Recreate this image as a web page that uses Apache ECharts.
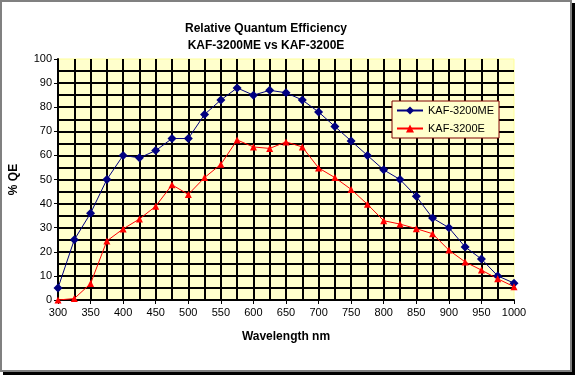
<!DOCTYPE html>
<html>
<head>
<meta charset="utf-8">
<script src="https://cdn.jsdelivr.net/npm/echarts@6/dist/echarts.min.js"></script>
<style>
    html, body { margin: 0; padding: 0; background: #fff; }
    #shadow { position: absolute; left: 3px; top: 3px; width: 572px; height: 372px; background: #000; }
    #frame { position: absolute; left: 0; top: 0; width: 572px; height: 372px; box-sizing: border-box; border: 2px solid #808080; background: #fff; }
    #main { position: absolute; left: 0; top: 0; width: 575px; height: 375px; }
</style>
</head>
<body>
<div id="shadow"></div>
<div id="frame"></div>
<div id="main"></div>
<script>
    // wavelengths (nm)
    var wavelengths = [300, 325, 350, 375, 400, 425, 450, 475, 500, 525, 550, 575, 600, 625, 650,
        675, 700, 725, 750, 775, 800, 825, 850, 875, 900, 925, 950, 975, 1000];
    // KAF-3200ME
    var qeME = [5, 25, 36, 50, 60, 59, 62, 67, 67, 77, 83, 88, 85, 87, 86,
        83, 78, 72, 66, 60, 54, 50, 43, 34, 30, 22, 17, 10, 7];
    // KAF-3200E
    var qeE = [0, 0.6, 6.8, 24.5, 29.5, 33.6, 38.9, 47.8, 43.8, 50.8, 56.3, 66.4, 63.5, 62.9, 65.6,
        63.5, 54.8, 50.8, 45.9, 39.7, 32.9, 31.5, 29.6, 27.5, 20.7, 15.8, 12.4, 8.8, 5.5];
    var seriesNames = ['KAF-3200ME', 'KAF-3200E'];

    function pairs(xs, ys) {
        var out = [];
        for (var i = 0; i < xs.length; i++) {
            out.push([xs[i], ys[i]]);
        }
        return out;
    }

    var font = 'Liberation Sans, Arial, sans-serif';
    var gridLine = { color: '#000', width: 2 };

    var myChart = echarts.init(document.getElementById('main'));
    myChart.setOption({
        animation: false,
        backgroundColor: 'transparent',
        textStyle: { fontFamily: font },
        title: {
            text: 'Relative Quantum Efficiency\nKAF-3200ME vs KAF-3200E',
            left: 261,
            top: 15,
            textAlign: 'center',
            textStyle: { fontFamily: font, fontSize: 12, fontWeight: 'bold', color: '#000', lineHeight: 17 }
        },
        legend: {
            orient: 'vertical',
            left: 392,
            top: 101,
            width: 101,
            padding: [4, 5, 4, 4],
            itemGap: 7,
            itemWidth: 26,
            itemHeight: 10,
            backgroundColor: '#FFFFCC',
            borderColor: '#800000',
            borderWidth: 1,
            borderRadius: 0,
            textStyle: { fontFamily: font, fontSize: 11, color: '#000' },
            data: seriesNames
        },
        grid: {
            show: true,
            left: 58,
            top: 59,
            right: 61,
            bottom: 75,
            backgroundColor: '#FFFFCC',
            borderColor: '#FFFF99',
            borderWidth: 1
        },
        xAxis: {
            type: 'value',
            min: 300,
            max: 1000,
            interval: 50,
            name: 'Wavelength nm',
            nameLocation: 'middle',
            nameGap: 31,
            nameTextStyle: { fontFamily: font, fontSize: 12, fontWeight: 'bold', color: '#000' },
            axisLine: { show: true, lineStyle: { color: '#000', width: 2 } },
            axisTick: { show: true, length: 4, lineStyle: { color: '#000', width: 1 } },
            axisLabel: {
                fontFamily: font, fontSize: 11, color: '#000', margin: 7,
                formatter: function (v) { return String(v); }
            },
            splitLine: { show: true, showMaxLine: false, lineStyle: gridLine },
            minorTick: { show: false, splitNumber: 2 },
            minorSplitLine: { show: true, lineStyle: gridLine }
        },
        yAxis: {
            type: 'value',
            min: 0,
            max: 100,
            interval: 10,
            name: '% QE',
            nameLocation: 'middle',
            nameGap: 38,
            nameRotate: 90,
            nameTextStyle: { fontFamily: font, fontSize: 12, fontWeight: 'bold', color: '#000' },
            axisLine: { show: true, lineStyle: { color: '#000', width: 2 } },
            axisTick: { show: true, length: 4, lineStyle: { color: '#000', width: 1 } },
            axisLabel: { fontFamily: font, fontSize: 11, color: '#000', margin: 6 },
            splitLine: { show: true, showMaxLine: false, lineStyle: gridLine },
            minorTick: { show: false, splitNumber: 2 },
            minorSplitLine: { show: true, lineStyle: gridLine }
        },
        series: [
            {
                name: seriesNames[0],
                type: 'line',
                symbol: 'diamond',
                symbolSize: 9,
                lineStyle: { color: '#000080', width: 1 },
                itemStyle: { color: '#000080' },
                data: pairs(wavelengths, qeME)
            },
            {
                name: seriesNames[1],
                type: 'line',
                symbol: 'triangle',
                symbolSize: 7,
                lineStyle: { color: '#FF0000', width: 1 },
                itemStyle: { color: '#FF0000' },
                data: pairs(wavelengths, qeE)
            }
        ]
    });
</script>
</body>
</html>
